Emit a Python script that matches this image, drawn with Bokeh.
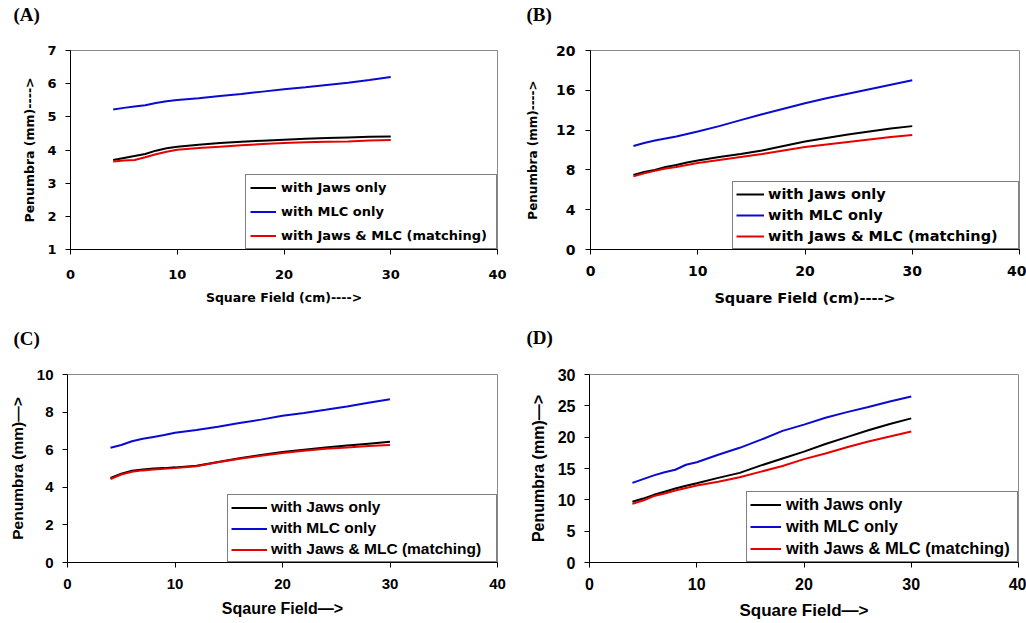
from bokeh.plotting import figure
from bokeh.models import Range1d, Legend, LegendItem, FixedTicker, Title
from bokeh.layouts import column, row
from bokeh.embed import file_html
from bokeh.resources import INLINE

# ---------------- data ----------------
field_cm = [4, 5, 6, 7, 8, 9, 10, 12, 14, 16, 18, 20, 22, 24, 26, 28, 30]

a_jaws = [3.70, 3.76, 3.82, 3.88, 3.98, 4.05, 4.10, 4.16, 4.21, 4.25, 4.28, 4.31, 4.34, 4.36, 4.38, 4.40, 4.41]
a_mlc = [5.22, 5.27, 5.31, 5.35, 5.42, 5.47, 5.51, 5.56, 5.63, 5.69, 5.76, 5.83, 5.89, 5.96, 6.03, 6.11, 6.20]
a_both = [3.65, 3.68, 3.70, 3.78, 3.87, 3.95, 4.01, 4.06, 4.10, 4.14, 4.18, 4.21, 4.23, 4.25, 4.26, 4.29, 4.30]

b_jaws = [7.5, 7.8, 8.0, 8.3, 8.5, 8.75, 8.95, 9.3, 9.6, 9.95, 10.4, 10.85, 11.2, 11.55, 11.85, 12.15, 12.4]
b_mlc = [10.4, 10.7, 10.95, 11.15, 11.35, 11.6, 11.85, 12.4, 13.0, 13.6, 14.15, 14.7, 15.2, 15.65, 16.1, 16.55, 17.0]
b_both = [7.35, 7.65, 7.9, 8.15, 8.3, 8.5, 8.7, 9.0, 9.3, 9.6, 9.95, 10.3, 10.55, 10.8, 11.05, 11.3, 11.5]

c_jaws = [4.5, 4.72, 4.88, 4.95, 5.0, 5.02, 5.06, 5.15, 5.35, 5.55, 5.72, 5.88, 6.0, 6.12, 6.22, 6.32, 6.42]
c_mlc = [6.1, 6.25, 6.45, 6.58, 6.68, 6.78, 6.9, 7.05, 7.22, 7.42, 7.6, 7.8, 7.95, 8.12, 8.3, 8.5, 8.68]
c_both = [4.44, 4.68, 4.83, 4.9, 4.95, 4.98, 5.02, 5.12, 5.33, 5.52, 5.68, 5.83, 5.95, 6.05, 6.12, 6.2, 6.25]

d_jaws = [9.7, 10.2, 10.8, 11.3, 11.8, 12.25, 12.65, 13.5, 14.3, 15.5, 16.6, 17.7, 18.9, 20.0, 21.1, 22.1, 23.0]
d_mlc = [12.7, 13.3, 13.9, 14.4, 14.8, 15.6, 16.0, 17.2, 18.3, 19.6, 21.0, 22.0, 23.1, 24.0, 24.8, 25.7, 26.5]
d_both = [9.35, 9.9, 10.6, 11.0, 11.5, 11.9, 12.3, 12.9, 13.6, 14.5, 15.4, 16.5, 17.4, 18.4, 19.3, 20.1, 20.9]

series_names = ["with Jaws only", "with MLC only", "with Jaws & MLC (matching)"]
x_ticks = [0, 10, 20, 30, 40]
a_yticks = [1, 2, 3, 4, 5, 6, 7]
b_yticks = [0, 4, 8, 12, 16, 20]
c_yticks = [0, 2, 4, 6, 8, 10]
d_yticks = [0, 5, 10, 15, 20, 25, 30]

series_colors = ["#000000", "#0a0ad2", "#e60000"]


def make_panel(tag, ys, yr, yticks, xlabel, ylabel, g, s):
    p = figure(width=g["w"], height=g["h"], output_backend="svg", toolbar_location=None,
               x_range=Range1d(0, 40), y_range=Range1d(*yr),
               min_border_left=g["l"], min_border_right=g["r"],
               min_border_top=g["t"], min_border_bottom=g["b"])
    p.background_fill_color = "white"
    p.border_fill_color = "white"
    p.outline_line_color = "#8a8a8a"
    p.outline_line_width = 1
    p.xgrid.visible = False
    p.ygrid.visible = False

    # panel tag, e.g. "(A)"
    p.title.text = tag
    p.title.align = "left"
    p.title.vertical_align = "top"
    p.title.offset = g["tx"]
    p.title.standoff = 0
    p.title.text_font = "Liberation Serif"
    p.title.text_font_style = "bold"
    p.title.text_font_size = "19px"
    p.title.text_color = "black"

    # blank title used as a spacer between the tag and the frame
    p.add_layout(Title(text=" ", standoff=g["ts"], text_font="Liberation Serif",
                       text_font_size="19px"), "above")

    for ax, ticks, lab, st in ((p.xaxis[0], x_ticks, xlabel, s["xs"]), (p.yaxis[0], yticks, ylabel, s["ys"])):
        ax.ticker = FixedTicker(ticks=ticks)
        ax.axis_label = lab
        ax.axis_line_color = "black"
        ax.axis_line_width = 1
        ax.major_tick_line_color = "black"
        ax.major_tick_out = 5
        ax.major_tick_in = 0
        ax.minor_tick_line_color = None
        ax.major_label_text_font = s["font"]
        ax.major_label_text_font_style = "bold"
        ax.major_label_text_font_size = s["tick"]
        ax.major_label_text_color = "black"
        ax.axis_label_text_font = s["font"]
        ax.axis_label_text_font_style = "bold"
        ax.axis_label_text_color = "black"
        ax.major_label_standoff = st[0]
        ax.axis_label_standoff = st[1]
    p.xaxis.axis_label_text_font_size = s["xl"]
    p.yaxis.axis_label_text_font_size = s["yl"]

    items = []
    for name, yv, col in zip(series_names, ys, series_colors):
        r = p.line(field_cm, yv, line_color=col, line_width=2)
        items.append(LegendItem(label=name, renderers=[r]))

    lg = s["leg"]
    legend = Legend(items=items, location="bottom_right", margin=0,
                    padding=lg["pad"], spacing=lg["sp"],
                    glyph_width=lg["gw"], glyph_height=lg["h"],
                    label_height=lg["h"], label_width=lg["lw"],
                    label_standoff=lg["ls"],
                    border_line_color="black", border_line_width=1,
                    background_fill_color="white", background_fill_alpha=1.0,
                    label_text_font=s["font"], label_text_font_style="bold",
                    label_text_font_size=lg["fs"], label_text_color="black")
    p.add_layout(legend)
    return p


pa = make_panel("(A)", [a_jaws, a_mlc, a_both], (1, 7), a_yticks,
                "Square Field (cm)---->", "Penumbra (mm)---->",
                dict(w=513, h=310, l=70, r=16, t=50, b=61, tx=-57, ts=1),
                dict(font="DejaVu Sans", tick="13px", xl="12.5px", yl="12.5px",
                     xs=(15, 8), ys=(9, 7),
                     leg=dict(pad=4, sp=7, gw=26, h=17, lw=211, ls=5, fs="13px")))

pb = make_panel("(B)", [b_jaws, b_mlc, b_both], (0, 20), b_yticks,
                "Square Field (cm)---->", "Penumbra (mm)---->",
                dict(w=513, h=310, l=77, r=7, t=50, b=61, tx=-64, ts=1),
                dict(font="DejaVu Sans", tick="14px", xl="14.5px", yl="12px",
                     xs=(11, 11), ys=(10, 13),
                     leg=dict(pad=3, sp=3, gw=28, h=18, lw=247, ls=4, fs="14.5px")))

pc = make_panel("(C)", [c_jaws, c_mlc, c_both], (0, 10), c_yticks,
                "Sqaure Field\u2014>", "Penumbra (mm)\u2014>",
                dict(w=513, h=313, l=67, r=16, t=63, b=60, tx=-54, ts=1),
                dict(font="Liberation Sans", tick="15px", xl="16px", yl="15.5px",
                     xs=(11, 8), ys=(9, 8),
                     leg=dict(pad=3, sp=3, gw=36, h=17, lw=222, ls=4, fs="15.5px")))

pd_ = make_panel("(D)", [d_jaws, d_mlc, d_both], (0, 30), d_yticks,
                 "Square Field\u2014>", "Penumbra (mm)\u2014>",
                 dict(w=513, h=313, l=76, r=8, t=64, b=61, tx=-63, ts=2),
                 dict(font="Liberation Sans", tick="16px", xl="17px", yl="16px",
                      xs=(10, 8), ys=(9, 8),
                      leg=dict(pad=3, sp=3, gw=31, h=19, lw=228, ls=5, fs="16.5px")))

layout = column(row(pa, pb, spacing=0), row(pc, pd_, spacing=0), spacing=0)

open("out.html", "w").write(file_html(layout, INLINE))
